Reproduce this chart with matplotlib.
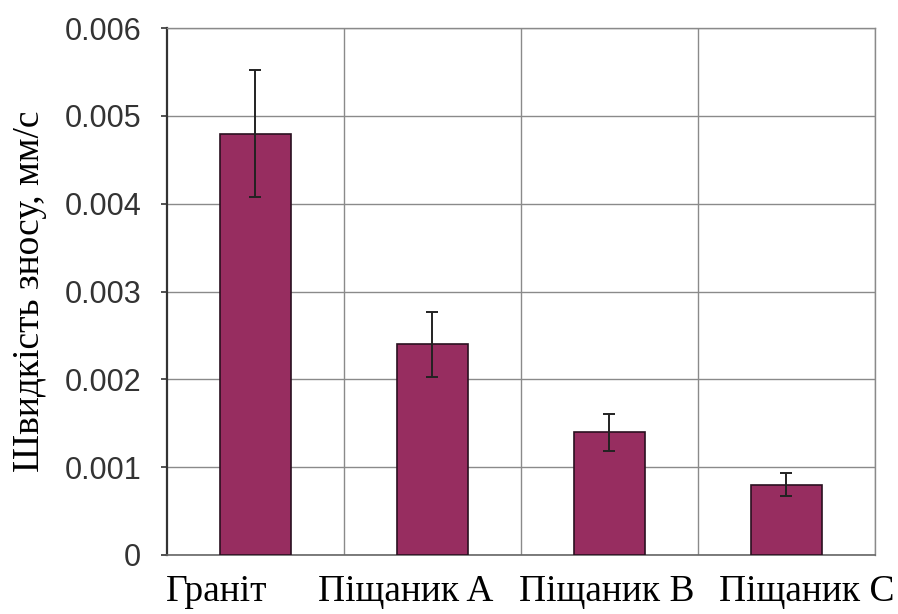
import matplotlib
matplotlib.use("Agg")
import matplotlib.pyplot as plt
import matplotlib.transforms as mtransforms
import numpy as np

categories = ["Граніт", "Піщаник A", "Піщаник B", "Піщаник C"]
values = [0.0048, 0.0024, 0.0014, 0.0008]
errors = [0.00072, 0.00037, 0.00021, 0.00013]
yticks = [0, 0.001, 0.002, 0.003, 0.004, 0.005, 0.006]
ytick_labels = ["0", "0.001", "0.002", "0.003", "0.004", "0.005", "0.006"]
ylabel = "Швидкість зносу, мм/с"

fig = plt.figure(figsize=(8.98, 6.14), dpi=100)
ax = fig.add_axes([0.186, 0.0961, 0.788, 0.858])

x = np.arange(len(categories))
ax.bar(x, values, width=0.4, color="#972d60", edgecolor="#2a1020", linewidth=1.2, zorder=3)
ax.errorbar(x, values, yerr=errors, fmt="none", ecolor="#222222", elinewidth=1.4,
            capsize=4, capthick=1.4, zorder=4)

ax.set_xlim(-0.5, len(categories) - 0.5)
ax.set_ylim(0, 0.006)
ax.set_yticks(yticks)
ax.set_yticklabels(ytick_labels, fontfamily="Liberation Sans", fontsize=22, color="#333333")
ax.set_xticks(x)
ax.set_xticklabels(categories, fontfamily="Liberation Serif", fontsize=27)
ax.set_xticks(np.arange(len(categories)) + 0.5, minor=True)
ax.tick_params(axis="x", which="both", length=0, pad=14)
ax.tick_params(axis="y", length=4.5, width=1.2, direction="out", color="#333333", pad=14)

# horizontal shifts of the category labels (pixels), as laid out in the reference
label_shift_px = [-39, -27, -3, 21]
for lab, dx in zip(ax.get_xticklabels(), label_shift_px):
    lab.set_transform(lab.get_transform() +
                      mtransforms.ScaledTranslation(dx / 100, 0, fig.dpi_scale_trans))

ax.grid(axis="y", which="major", color="#8a8a8a", linewidth=1.0, zorder=0)
ax.grid(axis="x", which="minor", color="#8a8a8a", linewidth=1.0, zorder=0)
ax.grid(axis="x", which="major", visible=False)

for s in ["top", "right"]:
    ax.spines[s].set_color("#8a8a8a")
    ax.spines[s].set_linewidth(1.0)
ax.spines["bottom"].set_color("#666666")
ax.spines["bottom"].set_linewidth(1.2)
ax.spines["left"].set_color("#333333")
ax.spines["left"].set_linewidth(1.6)

ax.set_ylabel(ylabel, fontfamily="Liberation Serif", fontsize=27)
ax.yaxis.label.set_va("center")
ax.yaxis.set_label_coords((30 - 167) / 708, 0.5)

fig.savefig("out.png", dpi=100)
